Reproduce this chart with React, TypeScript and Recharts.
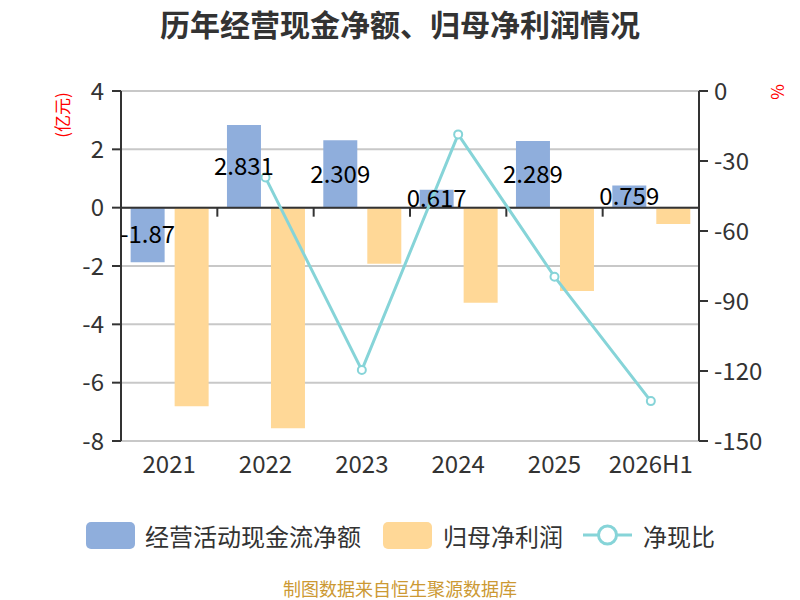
import React from 'react';
import { ComposedChart, Bar, Line, XAxis, YAxis, CartesianGrid, ReferenceLine, LabelList } from 'recharts';

const categories = ['2021', '2022', '2023', '2024', '2025', '2026H1'];
const cashFlow = [-1.87, 2.831, 2.309, 0.617, 2.289, 0.759];
const netProfit = [-6.81, -7.56, -1.92, -3.26, -2.86, -0.56];
const cashRatio: (number | null)[] = [null, -37.1, -119.6, -18.6, -79.6, -132.9];
const leftTicks = [-8, -6, -4, -2, 0, 2, 4];
const rightTicks = [-150, -120, -90, -60, -30, 0];

const seriesNames = ['经营活动现金流净额', '归母净利润', '净现比'];
const title = '历年经营现金净额、归母净利润情况';
const footer = '制图数据来自恒生聚源数据库';

const data = categories.map((name, i) => ({
  name,
  cash: cashFlow[i],
  profit: netProfit[i],
  ratio: cashRatio[i],
}));

const FONT = '"Noto Sans CJK SC", "Noto Sans", sans-serif';
const BLUE = '#8FAEDC';
const ORANGE = '#FFD897';
const TEAL = '#86D4D8';
const AXIS = '#333333';

const ZeroAxis = (props: any) => {
  const { x1, y1, x2, y2 } = props;
  const n = categories.length;
  const ticks = [];
  for (let i = 1; i < n; i++) {
    const x = x1 + ((x2 - x1) * i) / n;
    ticks.push(<line key={i} x1={x} x2={x} y1={y1} y2={y1 + 9} stroke={AXIS} strokeWidth={2} />);
  }
  return (
    <g>
      <line x1={x1} y1={y1} x2={x2} y2={y2} stroke={AXIS} strokeWidth={2} />
      {ticks}
    </g>
  );
};

const Dot = (props: any) => {
  const { cx, cy, value } = props;
  if (value === null || value === undefined || cx == null || cy == null) return <g />;
  return <circle cx={cx} cy={cy} r={4} fill="#fff" stroke={TEAL} strokeWidth={2} />;
};

export default function App() {
  return (
    <div style={{ position: 'absolute', left: 0, top: 0, width: 800, height: 600, background: '#fff', fontFamily: FONT }}>
      <ComposedChart
        width={800}
        height={600}
        data={data}
        margin={{ top: 91, right: 0, bottom: 0, left: 0 }}
        barCategoryGap="10%"
        barGap={10}
      >
        <CartesianGrid yAxisId="left" vertical={false} stroke="#c8c8c8" strokeWidth={2} />
        <XAxis
          dataKey="name"
          height={159}
          axisLine={false}
          tickLine={false}
          tickMargin={9}
          interval={0}
          tick={{ fontSize: 24, fill: AXIS, fontFamily: FONT }}
        />
        <YAxis
          yAxisId="left"
          orientation="left"
          width={121}
          domain={[-8, 4]}
          ticks={leftTicks}
          interval={0}
          axisLine={{ stroke: AXIS, strokeWidth: 2 }}
          tickLine={{ stroke: AXIS, strokeWidth: 2 }}
          tickSize={9}
          tickMargin={8}
          tick={{ fontSize: 24, fill: AXIS, fontFamily: FONT }}
        />
        <YAxis
          yAxisId="right"
          orientation="right"
          width={101}
          domain={[-150, 0]}
          ticks={rightTicks}
          interval={0}
          axisLine={{ stroke: AXIS, strokeWidth: 2 }}
          tickLine={{ stroke: AXIS, strokeWidth: 2 }}
          tickSize={9}
          tickMargin={6}
          tick={{ fontSize: 24, fill: AXIS, fontFamily: FONT }}
        />
        <Bar yAxisId="left" dataKey="cash" fill={BLUE} isAnimationActive={false}>
          <LabelList dataKey="cash" position="center" fill="#000" fontSize={24} fontFamily={FONT} />
        </Bar>
        <Bar yAxisId="left" dataKey="profit" fill={ORANGE} isAnimationActive={false} />
        <ReferenceLine yAxisId="left" y={0} shape={ZeroAxis} />
        <Line
          yAxisId="right"
          dataKey="ratio"
          stroke={TEAL}
          strokeWidth={3}
          dot={<Dot />}
          activeDot={false}
          isAnimationActive={false}
        />
      </ComposedChart>
      <svg width={800} height={600} style={{ position: 'absolute', left: 0, top: 0, pointerEvents: 'none' }}>
        <text x={400} y={23} textAnchor="middle" dominantBaseline="central" fontSize={30} fontWeight="bold" fill="#333" fontFamily={FONT}>
          {title}
        </text>
        <text x={61} y={115} transform="rotate(-90 61 115)" textAnchor="middle" dominantBaseline="central" fontSize={17} fill="#ff0000" fontFamily={FONT}>
          (亿元)
        </text>
        <text x={776} y={92} transform="rotate(-90 776 92)" textAnchor="middle" dominantBaseline="central" fontSize={17} fill="#ff0000" fontFamily={FONT}>
          %
        </text>
        <rect x={86} y={522} width={49} height={27} rx={5} fill={BLUE} />
        <text x={145} y={535} dominantBaseline="central" fontSize={24} fill="#333" fontFamily={FONT}>{seriesNames[0]}</text>
        <rect x={383} y={522} width={49} height={27} rx={5} fill={ORANGE} />
        <text x={443} y={535} dominantBaseline="central" fontSize={24} fill="#333" fontFamily={FONT}>{seriesNames[1]}</text>
        <line x1={583} x2={632} y1={535} y2={535} stroke={TEAL} strokeWidth={3} />
        <circle cx={607.5} cy={535} r={9} fill="#fff" stroke={TEAL} strokeWidth={3} />
        <text x={643} y={535} dominantBaseline="central" fontSize={24} fill="#333" fontFamily={FONT}>{seriesNames[2]}</text>
        <text x={400} y={588} textAnchor="middle" dominantBaseline="central" fontSize={18} fill="#CC9933" fontFamily={FONT}>
          {footer}
        </text>
      </svg>
    </div>
  );
}
